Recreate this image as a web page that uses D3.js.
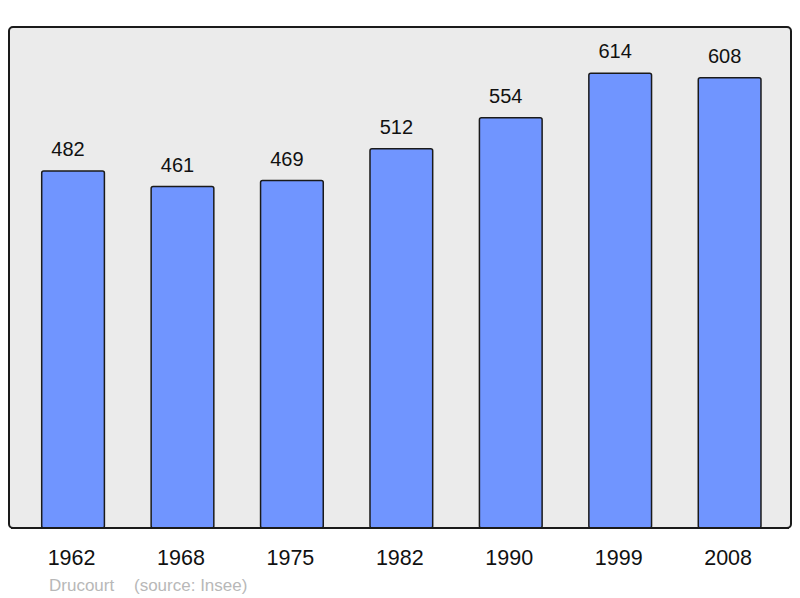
<!DOCTYPE html>
<html><head><meta charset="utf-8">
<script src="https://cdn.jsdelivr.net/npm/d3@7"></script>
<style>body{margin:0;background:#fff}svg{display:block}text{font-family:"Liberation Sans",Arial,sans-serif}</style>
</head><body>
<script>
const years = ["1962","1968","1975","1982","1990","1999","2008"];
const population = [482,461,469,512,554,614,608];
const author = "Drucourt";
const source = "(source: Insee)";

const W=800,H=598;
const svg=d3.select("body").append("svg").attr("width",W).attr("height",H);
const frame={x0:9,x1:791,y0:27,y1:528};
svg.append("rect").attr("x",frame.x0).attr("y",frame.y0).attr("width",frame.x1-frame.x0).attr("height",frame.y1-frame.y0)
 .attr("rx",4).attr("fill","#ebebeb").attr("stroke","#1a1a1a").attr("stroke-width",2);

const step=109.43,bw=62.7;
const xs=d3.scaleLinear().domain([0,years.length-1]).range([41.7,41.7+6*step]);
const y=d3.scaleLinear().domain([0,676.4]).range([528,27]);

const g=svg.append("g");
g.selectAll("rect.bar").data(population).join("rect").attr("class","bar")
 .attr("x",(d,i)=>xs(i)).attr("y",d=>y(d)).attr("width",bw).attr("height",d=>y(0)-y(d))
 .attr("rx",2).attr("fill","#7095ff").attr("stroke","#1a1a1a").attr("stroke-width",1.5);
g.selectAll("text.val").data(population).join("text").attr("class","val")
 .attr("x",(d,i)=>xs(i)+bw/2-5).attr("y",d=>y(d)-15).attr("text-anchor","middle")
 .attr("font-size",20).attr("fill","#111").text(d=>d);
svg.append("line").attr("x1",frame.x0+2).attr("x2",frame.x1-2).attr("y1",frame.y1).attr("y2",frame.y1).attr("stroke","#1a1a1a").attr("stroke-width",2);
g.selectAll("text.yr").data(years).join("text").attr("class","yr")
 .attr("x",(d,i)=>xs(i)+bw/2-1.5).attr("y",564.5).attr("text-anchor","middle")
 .attr("font-size",21.5).attr("fill","#111").text(d=>d);
svg.append("text").attr("x",49).attr("y",590.5).attr("font-size",17).attr("fill","#b8b8b8").text(author);
svg.append("text").attr("x",134).attr("y",590.5).attr("font-size",17).attr("fill","#b8b8b8").text(source);
</script>
</body></html>
